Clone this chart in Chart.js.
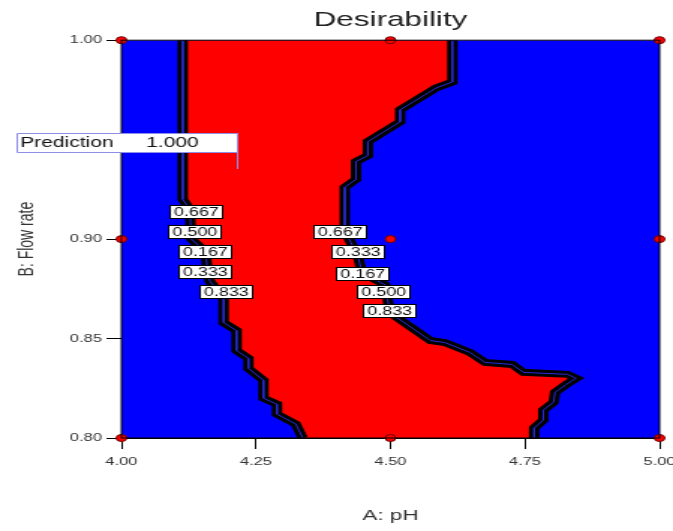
<!DOCTYPE html>
<html>
<head>
<meta charset="utf-8">
<script src="https://cdn.jsdelivr.net/npm/chart.js@4.4.1/dist/chart.umd.min.js"></script>
<style>
  html, body { margin: 0; padding: 0; background: #fff; overflow: hidden; }
  /* the plot is rendered narrow and widened, like the stretched export it mimics */
  #chart { display: block; transform: scaleX(1.4989); transform-origin: 0 0; }
</style>
</head>
<body>
<canvas id="chart" width="449" height="531"></canvas>
<script>
// Desirability contour, A: pH against B: Flow rate.

const PH_TICKS = [4.00, 4.25, 4.50, 4.75, 5.00];
const FLOW_TICKS = [0.80, 0.85, 0.90, 1.00];

// design points
const DESIGN_PH = [4.00, 4.50, 5.00, 4.00, 4.50, 5.00, 4.00, 4.50, 5.00];
const DESIGN_FLOW = [1.00, 1.00, 1.00, 0.90, 0.90, 0.90, 0.80, 0.80, 0.80];

// left edge of the desirable zone, top to bottom
const LEFT_PH = [4.114, 4.114, 4.127, 4.130, 4.155, 4.164, 4.190, 4.190, 4.214, 4.214, 4.236, 4.236, 4.264, 4.264, 4.289, 4.289, 4.324, 4.337];
const LEFT_FLOW = [1.000, 0.920, 0.915, 0.900, 0.894, 0.879, 0.870, 0.858, 0.854, 0.844, 0.840, 0.835, 0.829, 0.820, 0.817, 0.812, 0.807, 0.800];

// right edge of the desirable zone, top to bottom
const RIGHT_PH = [4.615, 4.615, 4.585, 4.518, 4.518, 4.458, 4.458, 4.436, 4.436, 4.415, 4.415, 4.439, 4.447, 4.490, 4.499, 4.574, 4.601, 4.648, 4.676, 4.726, 4.747, 4.829, 4.845, 4.827, 4.806, 4.803, 4.784, 4.784, 4.767, 4.767];
const RIGHT_FLOW = [1.000, 0.979, 0.976, 0.965, 0.959, 0.949, 0.942, 0.939, 0.930, 0.926, 0.904, 0.892, 0.883, 0.877, 0.863, 0.849, 0.848, 0.843, 0.838, 0.837, 0.833, 0.832, 0.830, 0.827, 0.823, 0.818, 0.814, 0.809, 0.805, 0.800];

// contour level tags
const LEVEL_TEXT = ["0.667", "0.500", "0.167", "0.333", "0.833", "0.667", "0.333", "0.167", "0.500", "0.833"];
const LEVEL_PH = [4.140, 4.136, 4.155, 4.156, 4.196, 4.408, 4.441, 4.449, 4.488, 4.499];
const LEVEL_FLOW = [0.9136, 0.9035, 0.8935, 0.8834, 0.8734, 0.9035, 0.8935, 0.8824, 0.8734, 0.8638];

// prediction flag
const PRED_PH = 4.214;
const PRED_FLOW = 0.935;
const PRED_VALUE = "1.000";

const FONT = '"Liberation Sans", Arial, sans-serif';
const BLUE = "#0000ff";
const RED = "#ff0000";

const pts = (xs, ys) => xs.map((x, i) => ({ x, y: ys[i] }));

const leftEdge = pts(LEFT_PH, LEFT_FLOW);
const rightEdge = pts(RIGHT_PH, RIGHT_FLOW);
const frame = [
  { x: PH_TICKS[0], y: FLOW_TICKS[0] },
  { x: PH_TICKS[PH_TICKS.length - 1], y: FLOW_TICKS[0] },
  { x: PH_TICKS[PH_TICKS.length - 1], y: FLOW_TICKS[FLOW_TICKS.length - 1] },
  { x: PH_TICKS[0], y: FLOW_TICKS[FLOW_TICKS.length - 1] },
];
const redZone = leftEdge.concat(rightEdge.slice().reverse());

function region(data, color, order) {
  return { data, order, fill: "shape", backgroundColor: color, borderWidth: 0, pointRadius: 0, tension: 0 };
}

function edge(data, color, width, order) {
  return { data, order, fill: false, borderColor: color, borderWidth: width, borderJoinStyle: "miter", pointRadius: 0, tension: 0 };
}

const overlay = {
  id: "overlay",
  afterDatasetsDraw(chart) {
    const { ctx, chartArea: a, scales: { x, y } } = chart;
    ctx.save();
    ctx.strokeStyle = "#000";
    ctx.lineWidth = 1;
    ctx.strokeRect(a.left, a.top, a.right - a.left, a.bottom - a.top);

    // level tags
    ctx.font = `12px ${FONT}`;
    ctx.textAlign = "center";
    ctx.textBaseline = "middle";
    LEVEL_TEXT.forEach((t, i) => {
      const px = Math.round(x.getPixelForValue(LEVEL_PH[i]));
      const py = Math.round(y.getPixelForValue(LEVEL_FLOW[i]));
      ctx.fillStyle = "#fff";
      ctx.fillRect(px - 17, py - 6, 34, 12);
      ctx.strokeStyle = "#000";
      ctx.strokeRect(px - 17.5, py - 6.5, 35, 13);
      ctx.fillStyle = "#111";
      ctx.fillText(t, px, py + 0.5);
    });

    // prediction flag
    const fx = Math.round(x.getPixelForValue(PRED_PH)) + 0.5;
    const fy = Math.round(y.getPixelForValue(PRED_FLOW));
    const bw = 147, bh = 19, top = fy - 36;
    ctx.fillStyle = "#fff";
    ctx.fillRect(fx - bw, top, bw, bh);
    ctx.strokeStyle = "#8e8ee6";
    ctx.beginPath();
    ctx.rect(fx - bw, top + 0.5, bw, bh);
    ctx.moveTo(fx, top + bh);
    ctx.lineTo(fx, fy);
    ctx.stroke();
    ctx.fillStyle = "#111";
    ctx.font = `14px ${FONT}`;
    ctx.textAlign = "left";
    ctx.fillText("Prediction", fx - bw + 2, top + bh / 2 + 1);
    ctx.fillText(PRED_VALUE, fx - bw + 86, top + bh / 2 + 1);
    ctx.restore();
  },
};

new Chart(document.getElementById("chart"), {
  type: "line",
  data: {
    datasets: [
      { data: pts(DESIGN_PH, DESIGN_FLOW), order: 0, showLine: false, clip: false, pointStyle: "circle", pointRadius: 3.5, backgroundColor: RED, borderColor: "#6a0000", borderWidth: 1 },
      edge(leftEdge, "#2a2ad8", 1, 1),
      edge(rightEdge, "#2a2ad8", 1, 1),
      edge(leftEdge, "#000", 7, 2),
      edge(rightEdge, "#000", 7, 2),
      region(redZone, RED, 3),
      region(frame, BLUE, 4),
    ],
  },
  options: {
    responsive: false,
    devicePixelRatio: 1,
    animation: false,
    events: [],
    layout: { padding: { left: 0, right: 9, top: 0, bottom: 0 } },
    scales: {
      x: {
        type: "linear",
        min: 4, max: 5,
        afterBuildTicks: (s) => { s.ticks = PH_TICKS.map((v) => ({ value: v })); },
        afterFit: (s) => { s.height = 93; s.paddingLeft = 0; s.paddingRight = 0; },
        grid: { display: true, drawOnChartArea: false, drawTicks: true, tickLength: 11, color: "#000" },
        border: { display: true, color: "#000" },
        ticks: { autoSkip: false, maxRotation: 0, padding: 6, color: "#333", font: { family: FONT, size: 11 }, callback: (v) => Number(v).toFixed(2) },
        title: { display: true, text: "A: pH", color: "#333", font: { family: FONT, size: 15 }, padding: { top: 0, bottom: 6 } },
      },
      y: {
        type: "linear",
        min: 0.8, max: 1.0,
        afterBuildTicks: (s) => { s.ticks = FLOW_TICKS.map((v) => ({ value: v })); },
        afterFit: (s) => { s.width = 81; s.paddingTop = 0; s.paddingBottom = 0; },
        grid: { display: true, drawOnChartArea: false, drawTicks: true, tickLength: 10, color: "#000" },
        border: { display: true, color: "#000" },
        ticks: { autoSkip: false, padding: 3, color: "#333", font: { family: FONT, size: 11 }, callback: (v) => Number(v).toFixed(2) },
        title: { display: true, text: "B: Flow rate", color: "#333", font: { family: FONT, size: 14 }, padding: { top: 10, bottom: 0 } },
      },
    },
    plugins: {
      legend: { display: false },
      tooltip: { enabled: false },
      title: {
        display: true,
        text: "Desirability",
        fullSize: false,
        color: "#222",
        font: { family: FONT, size: 21, weight: "normal" },
        padding: { top: 8, bottom: 7 },
      },
    },
  },
  plugins: [overlay],
});
</script>
</body>
</html>
